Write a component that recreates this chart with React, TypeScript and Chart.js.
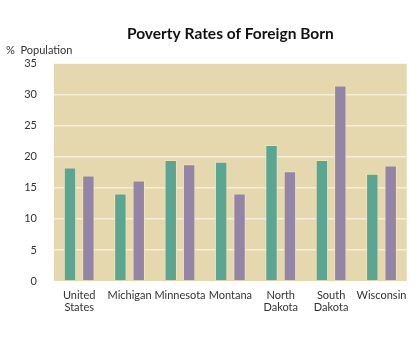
import React, { useEffect, useRef } from "react";
import { Chart, registerables } from "chart.js";

Chart.register(...registerables);

const categories: (string | string[])[] = [
  ["United", "States"],
  "Michigan",
  "Minnesota",
  "Montana",
  ["North", "Dakota"],
  ["South", "Dakota"],
  "Wisconsin",
];
const seriesGreen = [18.3, 14.1, 19.5, 19.2, 21.9, 19.5, 17.3];
const seriesPurple = [17.0, 16.2, 18.8, 14.1, 17.7, 31.5, 18.6];
const yTicks = [0, 5, 10, 15, 20, 25, 30, 35];

const FONT = "Lato, 'Open Sans', sans-serif";

const bgPlugin = {
  id: "plotBg",
  beforeDraw(chart: any) {
    const { ctx, chartArea } = chart;
    ctx.save();
    ctx.fillStyle = "#e5d7ae";
    ctx.fillRect(chartArea.left, chartArea.top, chartArea.right - chartArea.left, chartArea.bottom - chartArea.top);
    ctx.restore();
  },
};

export default function App() {
  const ref = useRef<HTMLCanvasElement>(null);
  useEffect(() => {
    document.body.style.margin = "0";
    const chart = new Chart(ref.current!, {
      type: "bar",
      data: {
        labels: categories,
        datasets: [
          {
            label: "A",
            data: seriesGreen,
            backgroundColor: "#5ba593",
            borderColor: "rgba(240,230,185,0.9)",
            borderWidth: 1,
          },
          {
            label: "B",
            data: seriesPurple,
            backgroundColor: "#9484a6",
            borderColor: "rgba(240,230,185,0.9)",
            borderWidth: 1,
          },
        ],
      },
      options: {
        animation: false,
        responsive: false,
        maintainAspectRatio: false,
        layout: { padding: { left: 6, right: 8, top: 0, bottom: 0 } },
        datasets: { bar: { categoryPercentage: 0.73, barPercentage: 0.674 } },
        plugins: {
          legend: { display: false },
          tooltip: { enabled: false },
          title: {
            display: true,
            text: "Poverty Rates of Foreign Born",
            fullSize: false,
            color: "#111",
            font: { family: FONT, size: 15.5, weight: "bold" },
            padding: { top: 25, bottom: 0 },
          },
          subtitle: {
            display: true,
            text: "%  Population",
            align: "start",
            fullSize: true,
            color: "#333",
            font: { family: FONT, size: 11 },
            padding: { top: 0, bottom: 7 },
          },
        },
        scales: {
          x: {
            afterFit(axis: any) {
              axis.height = 64;
            },
            grid: { display: false, drawTicks: false },
            border: { display: false },
            ticks: {
              color: "#333",
              font: { family: FONT, size: 11, lineHeight: 1.1 },
              padding: 8,
              maxRotation: 0,
              autoSkip: false,
            },
          },
          y: {
            min: 0,
            max: 35,
            afterBuildTicks(axis: any) {
              axis.ticks = yTicks.map((v) => ({ value: v }));
            },
            afterFit(axis: any) {
              axis.width = 48;
            },
            grid: {
              color: (c: any) => (c.tick && (c.tick.value === 35 || c.tick.value === 0) ? "rgba(0,0,0,0)" : "#f5efd9"),
              lineWidth: 1.5,
              drawTicks: false,
            },
            border: { display: false },
            ticks: {
              color: "#333",
              font: { family: FONT, size: 11 },
              padding: 17,
            },
          },
        },
      },
      plugins: [bgPlugin],
    });
    return () => chart.destroy();
  }, []);
  return (
    <div style={{ position: "absolute", left: 0, top: 0, width: 415, height: 345 }}>
      <canvas ref={ref} width={415} height={345} style={{ width: 415, height: 345 }} />
    </div>
  );
}
